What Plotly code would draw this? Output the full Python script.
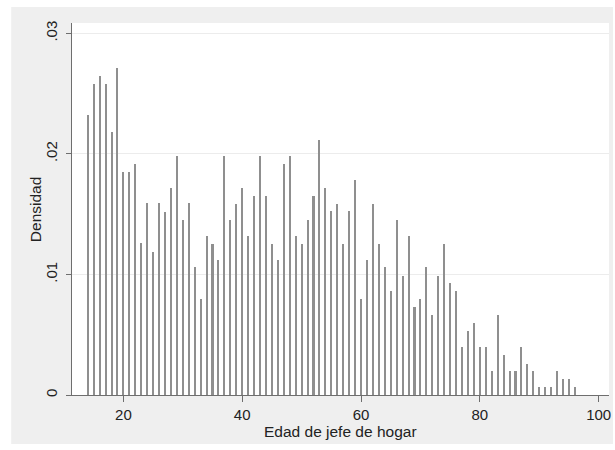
import plotly.graph_objects as go

# Ages (integer years) and histogram density
ages = list(range(14, 97))
density = [
    0.0232, 0.0258, 0.0265, 0.0258, 0.0218, 0.0271, 0.0185, 0.0185, 0.0192, 0.01257,  # 14-23
    0.0159, 0.0119, 0.0159, 0.0152, 0.0172, 0.0198, 0.01454, 0.0159, 0.0106, 0.0080,  # 24-33
    0.0132, 0.01255, 0.01122, 0.0198, 0.01454, 0.01587, 0.01717, 0.0132, 0.01647, 0.0198,  # 34-43
    0.01647, 0.01255, 0.01122, 0.01916, 0.0198, 0.0132, 0.01255, 0.01454, 0.01647, 0.02112,  # 44-53
    0.01717, 0.01523, 0.01587, 0.01255, 0.01523, 0.01783, 0.0080, 0.01122, 0.01587, 0.01255,  # 54-63
    0.01061, 0.00859, 0.01454, 0.00989, 0.0132, 0.00726, 0.0080, 0.01061, 0.0066, 0.00989,  # 64-73
    0.01255, 0.00929, 0.00859, 0.0040, 0.00527, 0.00597, 0.0040, 0.0040, 0.00198, 0.0066,  # 74-83
    0.00331, 0.00198, 0.00198, 0.0040, 0.00261, 0.00198, 0.00066, 0.00066, 0.00066, 0.00198,  # 84-93
    0.00129, 0.00129, 0.00066,  # 94-96
]

x_ticks = [20, 40, 60, 80, 100]
x_tick_labels = ["20", "40", "60", "80", "100"]
y_ticks = [0, 0.01, 0.02, 0.03]
y_tick_labels = ["0", ".01", ".02", ".03"]

x_title = "Edad de jefe de hogar"
y_title = "Densidad"

FONT = "Liberation Sans, Arial, sans-serif"
TXT = "#222222"
AX = "#6e6e6e"

fig = go.Figure()
fig.add_trace(go.Bar(
    x=ages, y=density, width=0.34,
    marker=dict(color="#8f8f8f", line=dict(width=0)),
    hoverinfo="x+y",
))

W, H = 615, 450
ml, mr, mt, mb = 72, 4, 23, 55
pw, ph = W - ml - mr, H - mt - mb

def px_x(fx):
    return (fx - ml) / pw

def px_y(fy):
    return (H - mb - fy) / ph

fig.update_layout(
    width=W, height=H,
    margin=dict(l=ml, r=mr, t=mt, b=mb, pad=0),
    paper_bgcolor="white",
    plot_bgcolor="white",
    showlegend=False,
    bargap=0,
    font=dict(family=FONT, size=15, color=TXT),
    shapes=[
        dict(type="rect", xref="paper", yref="paper", layer="below",
             x0=px_x(11), x1=px_x(615), y0=px_y(444), y1=px_y(7),
             fillcolor="#efefef", line=dict(width=0)),
        dict(type="rect", xref="paper", yref="paper", layer="below",
             x0=0, x1=1, y0=0, y1=1,
             fillcolor="white", line=dict(width=0)),
    ],
    annotations=[
        dict(text=x_title, xref="paper", yref="paper", x=0.5, y=px_y(432),
             showarrow=False, xanchor="center", yanchor="middle",
             font=dict(family=FONT, size=15.5, color=TXT)),
        dict(text=y_title, xref="paper", yref="paper", x=px_x(35), y=0.5,
             showarrow=False, xanchor="center", yanchor="middle", textangle=-90,
             font=dict(family=FONT, size=15.5, color=TXT)),
    ],
)

fig.update_xaxes(
    range=[11.35, 101.74],
    tickmode="array", tickvals=x_ticks, ticktext=x_tick_labels,
    ticks="outside", ticklen=6, tickwidth=1, tickcolor=AX,
    showline=True, linecolor=AX, linewidth=1,
    showgrid=False, zeroline=False,
    tickfont=dict(family=FONT, size=15, color=TXT),
)
fig.update_yaxes(
    range=[0, 0.03086],
    tickmode="array", tickvals=y_ticks, ticktext=y_tick_labels,
    ticks="outside", ticklen=5, tickwidth=1, tickcolor=AX,
    showline=True, linecolor=AX, linewidth=1,
    showgrid=True, gridcolor="#ececec", gridwidth=1,
    zeroline=False, tickangle=-90, ticklabelstandoff=3,
    tickfont=dict(family=FONT, size=15, color=TXT),
)

fig.write_html("out.html", config={"displayModeBar": False},
               post_script="document.body.style.margin='0';")
